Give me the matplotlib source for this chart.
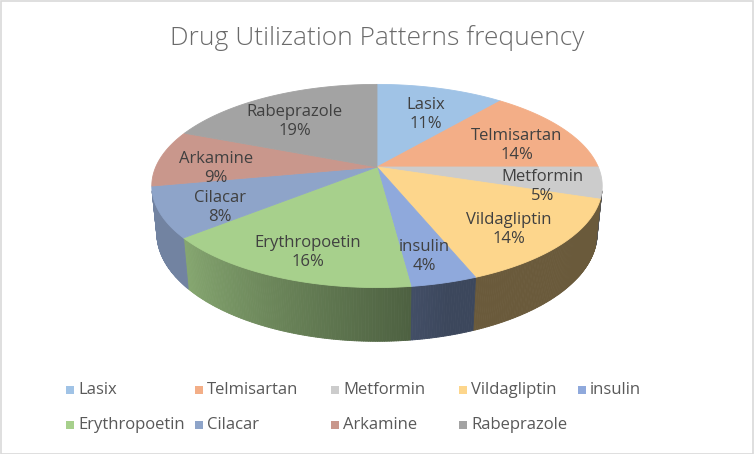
import numpy as np
import matplotlib
matplotlib.use("Agg")
import matplotlib.pyplot as plt
from matplotlib.patches import Polygon, Rectangle
from matplotlib.collections import PolyCollection

plt.rcParams['font.family'] = ['Open Sans', 'DejaVu Sans']

# data
drugs = ["Lasix", "Telmisartan", "Metformin", "Vildagliptin", "insulin",
         "Erythropoetin", "Cilacar", "Arkamine", "Rabeprazole"]
shares = [11, 14, 5, 14, 4, 16, 8, 9, 19]
slice_colors = ["#a0c3e6", "#f3ae87", "#cccccc", "#fdd68c", "#8fa9dc",
                "#a7d08c", "#8ea4c9", "#c9978c", "#a3a3a3"]
title = "Drug Utilization Patterns frequency"

# layout of the fake 3d pie (pixel space)
W, H = 754, 454
cx, cy = 377, 167
elev = np.radians(26.3)
cam_d = 4.8
focal = 1062
depth = 0.24
label_r = 0.74
label_dy = 8


def project(x, z, hgt=0.0):
    u = hgt * np.cos(elev) - z * np.sin(elev)
    dist = cam_d - (hgt * np.sin(elev) + z * np.cos(elev))
    return cx + focal * x / dist, cy - focal * u / dist


def rim(phi, r=1.0, hgt=0.0):
    # phi in degrees, 0 = back (12 o'clock), clockwise seen from above
    p = np.radians(phi)
    return project(r * np.sin(p), -r * np.cos(p), hgt)


def side_shade(phi):
    return 0.42 + 0.38 * np.clip((phi - 165) / 65.0, 0, 1)


fig = plt.figure(figsize=(W / 100, H / 100), dpi=100)
ax = fig.add_axes([0, 0, 1, 1])
ax.set_xlim(0, W)
ax.set_ylim(H, 0)
ax.axis("off")

total = sum(shares)
bounds = np.concatenate([[0], np.cumsum(shares)]) / total * 360.0

# visible part of the outer wall
vis = np.degrees(np.arccos(-1.0 / (cam_d * np.cos(elev))))
vis_lo, vis_hi = vis, 360 - vis

polys, fcols = [], []
for i, col in enumerate(slice_colors):
    a0, a1 = max(bounds[i], vis_lo), min(bounds[i + 1], vis_hi)
    if a1 <= a0:
        continue
    steps = np.linspace(a0, a1, max(int((a1 - a0) / 0.5), 2))
    base = np.array(matplotlib.colors.to_rgb(col))
    for p0, p1 in zip(steps[:-1], steps[1:]):
        quad = [rim(p0), rim(p1), rim(p1, hgt=-depth), rim(p0, hgt=-depth)]
        polys.append(quad)
        fcols.append(base * side_shade((p0 + p1) / 2))
ax.add_collection(PolyCollection(polys, facecolors=fcols, edgecolors=fcols,
                                 linewidths=0.6))

# top face
for i, col in enumerate(slice_colors):
    arc = np.linspace(bounds[i], bounds[i + 1], 80)
    pts = [project(0, 0)] + [rim(a) for a in arc]
    ax.add_patch(Polygon(pts, closed=True, facecolor=col, edgecolor=col,
                         linewidth=0.6))

# data labels
for i, name in enumerate(drugs):
    mid = (bounds[i] + bounds[i + 1]) / 2
    lx, ly = rim(mid, r=label_r)
    ax.text(lx, ly + label_dy, f"{name}\n{shares[i] / total:.0%}",
            ha="center", va="center", fontsize=12, color="#404040",
            linespacing=1.25)

ax.text(W / 2, 38, title, ha="center", va="center", fontsize=19,
        color="#6a6a6a", fontweight="light")

# legend
leg_x = [66, 195, 331, 459, 578]
leg_y = [390, 425]
for i, name in enumerate(drugs):
    x0 = leg_x[i % 5]
    y0 = leg_y[i // 5]
    ax.add_patch(Rectangle((x0, y0 - 4), 8, 8, facecolor=slice_colors[i],
                           edgecolor="none"))
    ax.text(x0 + 12, y0, name, ha="left", va="center", fontsize=12,
            color="#595959")

fig.patches.append(Rectangle((0.5 / W, 0.5 / H), 1 - 1.5 / W, 1 - 1.5 / H,
                             transform=fig.transFigure, fill=False,
                             edgecolor="#d9d9d9", linewidth=1.2))

fig.savefig("out.png", dpi=100)
